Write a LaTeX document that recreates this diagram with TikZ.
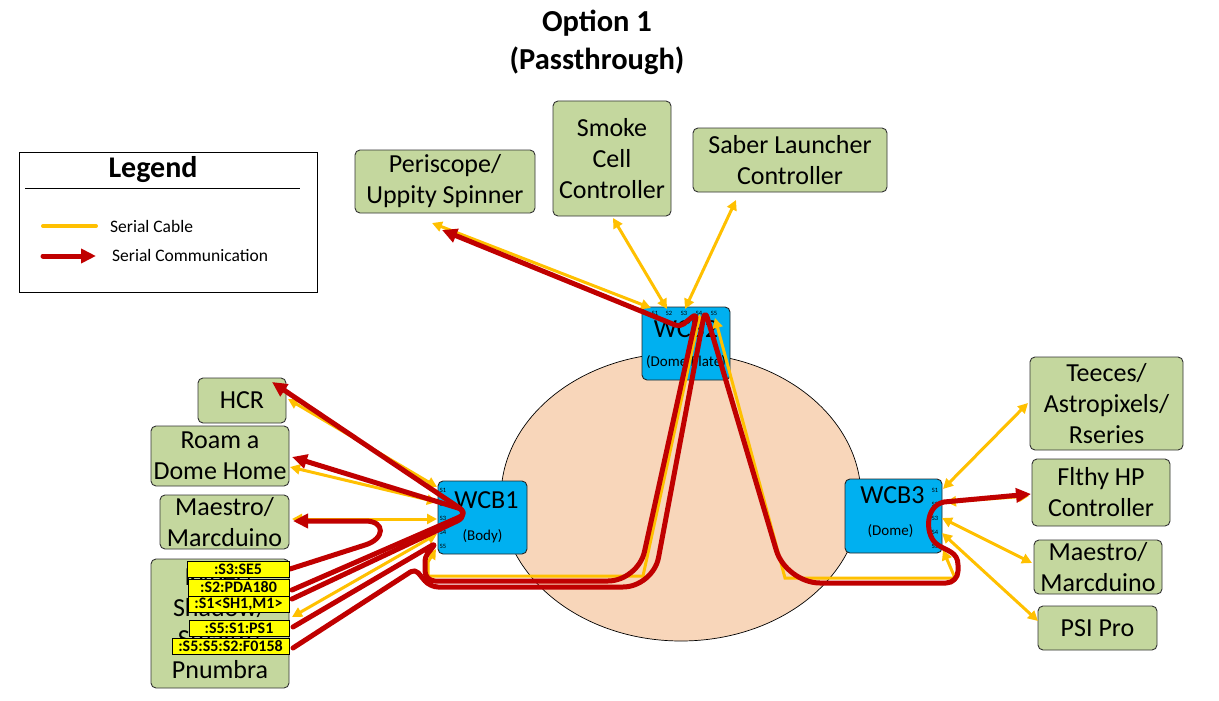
\documentclass[tikz,border=0pt]{standalone}
\usepackage{fontspec}
\setmainfont{Carlito}
\usetikzlibrary{arrows.meta,shapes.geometric}
\definecolor{gfill}{RGB}{196,215,158}
\definecolor{bfill}{HTML}{00B0F0}
\definecolor{peach}{HTML}{F8D6BA}
\definecolor{cab}{HTML}{FFC000}
\definecolor{com}{HTML}{C00000}
\definecolor{lab}{HTML}{FFFF00}
\newcommand\fsBox{\fontsize{26}{31}\selectfont}
\newcommand\fsTitle{\fontsize{30.5}{38}\selectfont\bfseries}
\newcommand\fsLeg{\fontsize{30}{36}\selectfont\bfseries}
\newcommand\fsLegTxt{\fontsize{17.5}{20}\selectfont}
\newcommand\fsWcb{\fontsize{26}{30}\selectfont}
\newcommand\fsSub{\fontsize{15}{18}\selectfont}
\newcommand\fsPort{\fontsize{6.5}{7}\selectfont}
\newcommand\fsLab{\fontsize{16}{16}\selectfont\bfseries}
\begin{document}
\begin{tikzpicture}[x=1pt,y=-1pt,
  gbox/.style={draw=black!80, line width=0.9pt, fill=gfill, rounded corners=5pt, inner sep=0pt, align=center, font=\fsBox},
  wbox/.style={draw=black!85, line width=0.9pt, fill=bfill, rounded corners=5pt, inner sep=0pt},
  cable/.style={draw=cab, line width=3pt, {Triangle[length=10pt,width=10pt]}-{Triangle[length=10pt,width=10pt]}},
  comm/.style={draw=com, line width=5pt, line cap=round, line join=round, -{Triangle[length=15pt,width=14pt]}},
  ylab/.style={draw=black, line width=0.8pt, fill=lab, inner sep=0pt, font=\fsLab},
  port/.style={font=\fsPort, inner sep=0pt},
]
\useasboundingbox (0,0) rectangle (1219,701);
\fill[white] (0,0) rectangle (1219,701);

% title
\node[font=\fsTitle, align=center] (title) at (597,42) {Option 1\\(Passthrough)};

% legend
\node[draw=black, line width=0.9pt, minimum width=298pt, minimum height=140pt, inner sep=0pt] (legend) at (168,222) {};
\node[font=\fsLeg] (legtitle) at (153,170) {Legend};
\coordinate (lgA) at (25,188); \coordinate (lgB) at (300,188);
\draw[line width=0.8pt] (lgA) -- (lgB);
\coordinate (lc1) at (43,226); \coordinate (lc2) at (96,226);
\draw[cab, line width=4pt, line cap=round] (lc1) -- (lc2);
\node[font=\fsLegTxt, anchor=west, inner sep=0pt] (lcabt) at (110,226) {Serial Cable};
\coordinate (lr1) at (43,256); \coordinate (lr2) at (96,256);
\draw[comm] (lr1) -- (lr2);
\node[font=\fsLegTxt, anchor=west, inner sep=0pt] (lcomt) at (112,255) {Serial Communication};

% dome
\node[ellipse, draw=black, line width=0.7pt, fill=peach, minimum width=360pt, minimum height=288pt, inner sep=0pt] (dome) at (681,497) {};

% WCB boxes
\node[wbox, minimum width=88pt, minimum height=73pt] (wcb2) at (686,343.5) {};
\path (wcb2.north) ++(0,23) node[font=\fsWcb] (wcb2t) {WCB2};
\path (wcb2.north) ++(0,56) node[font=\fsSub] (wcb2s) {(Dome Plate)};
\node[wbox, minimum width=89pt, minimum height=73pt] (wcb1) at (482.5,517.5) {};
\path (wcb1.north) ++(4,20) node[font=\fsWcb] (wcb1t) {WCB1};
\path (wcb1.north) ++(0,56) node[font=\fsSub] (wcb1s) {(Body)};
\node[wbox, minimum width=97pt, minimum height=74pt] (wcb3) at (893.5,516) {};
\path (wcb3.north) ++(-1,17) node[font=\fsWcb] (wcb3t) {WCB3};
\path (wcb3.north) ++(-3,53) node[font=\fsSub] (wcb3s) {(Dome)};

% port labels
\foreach \i/\yy in {1/490,2/504,3/518,4/532,5/546}{
  \node[port] (p1\i) at (443,\yy) {S\i};
  \node[port] (p3\i) at (935,\yy) {S\i};
}
\foreach \i/\xx in {1/655,2/669,3/684,4/699,5/714}{
  \node[port] (p2\i) at (\xx,313) {S\i};
}

% green boxes
\node[gbox, minimum width=180pt, minimum height=63pt] (peri) at (445,181.5) {Periscope/\\Uppity Spinner};
\node[gbox, minimum width=118pt, minimum height=115pt] (smoke) at (612,158.5) {Smoke\\Cell\\Controller};
\node[gbox, minimum width=194pt, minimum height=64pt] (saber) at (790,160) {Saber Launcher\\Controller};
\node[gbox, minimum width=88pt, minimum height=45pt] (hcr) at (242,400.5) {HCR};
\node[gbox, minimum width=138pt, minimum height=60pt] (roam) at (220,456) {Roam a\\Dome Home};
\node[gbox, minimum width=129pt, minimum height=54pt] (maeL) at (224.5,522) {Maestro/\\Marcduino};
\node[gbox, minimum width=138pt, minimum height=129pt] (kyber) at (220,623.5) {Kyber/\\Shadow/\\Stealth/\\Pnumbra};
\node[gbox, minimum width=153pt, minimum height=93pt] (teeces) at (1106.5,403.5) {Teeces/\\Astropixels/\\Rseries};
\node[gbox, minimum width=138pt, minimum height=67pt] (flthy) at (1101,492.5) {Flthy HP\\Controller};
\node[gbox, minimum width=128pt, minimum height=54pt] (maeR) at (1098,567) {Maestro/\\Marcduino};
\node[gbox, minimum width=119pt, minimum height=44pt] (psi) at (1097.5,628) {PSI Pro};

% connector end points
\coordinate (hcrY) at (288,399);   \coordinate (w1s1) at (437,487);
\coordinate (roamY) at (290,467);  \coordinate (w1s2) at (437,502);
\coordinate (maeLY) at (292,519);  \coordinate (w1s3) at (437,519);
\coordinate (kybY) at (292,617);   \coordinate (w1s4) at (437,534);
\coordinate (w1s5) at (436,549);
\coordinate (periY) at (432,223);  \coordinate (w2s1) at (651,308);
\coordinate (smokeY) at (613,218); \coordinate (w2s2) at (667,309);
\coordinate (saberY) at (736,200); \coordinate (w2s3) at (685,309);
\coordinate (w2s4) at (700,314);   \coordinate (w2s5) at (715,318);
\coordinate (w3s1) at (943,489);   \coordinate (teecesY) at (1028,403);
\coordinate (w3s2) at (946,502);   \coordinate (flthyY) at (1029,496);
\coordinate (w3s3) at (942,518);   \coordinate (maeRY) at (1032,563);
\coordinate (w3s4) at (942,533);   \coordinate (psiY) at (1038,621);
\coordinate (w3s5) at (943,550);

% serial cables (yellow)
\draw[cable] (hcrY) -- (w1s1);
\draw[cable] (roamY) -- (w1s2);
\draw[cable] (maeLY) -- (w1s3);
\draw[cable] (kybY) -- (w1s4);
\draw[cable] (w1s5) -- (428,562) -- (428,576) -- (643,576) -- (w2s4);
\draw[cable] (w2s5) -- (785,578) -- (955,578) -- (w3s5);
\draw[cable] (periY) -- (w2s1);
\draw[cable] (smokeY) -- (w2s2);
\draw[cable] (saberY) -- (w2s3);
\draw[cable] (w3s1) -- (teecesY);
\draw[cable] (w3s2) -- (flthyY);
\draw[cable] (w3s3) -- (maeRY);
\draw[cable] (w3s4) -- (psiY);

% label coordinates (red starts)
\coordinate (rS3) at (290,569);
\coordinate (rS2) at (292,590);
\coordinate (rS1) at (292,599);
\coordinate (rPS) at (293,627);
\coordinate (rF)  at (293,648);
\coordinate (hcrR) at (272,382);
\coordinate (roamR) at (292,457);
\coordinate (maeLR) at (293,521);
\coordinate (periR) at (442,230);
\coordinate (flthyR) at (1031,494);

% serial communication (red)
\draw[comm] (rS3) -- (365,545) .. controls (385,539) and (386,521) .. (365,521) -- (maeLR);
\draw[comm, rounded corners=14pt] (rS2) -- (471,512) -- (roamR);
\draw[comm, rounded corners=14pt] (rS1) -- (470,515) -- (hcrR);
\draw[comm] (rPS) [rounded corners=5pt] -- (436,543) [rounded corners=4pt] -- (425,557) [rounded corners=10pt] -- (425,581) [rounded corners=30pt] -- (638,581) [rounded corners=6pt] -- (697,313) [rounded corners=5pt] -- (680,327) [sharp corners] -- (periR);
\draw[comm] (rF) [rounded corners=5pt] -- (415,569) [rounded corners=8pt] -- (430,587) [rounded corners=30pt] -- (653,587) [rounded corners=8pt] -- (705,310) [rounded corners=34pt] -- (786,583) [rounded corners=12pt] -- (958,583) [sharp corners] -- (958,565) .. controls (958,552) and (947,551) .. (938,545) .. controls (925,537) and (924,506) .. (944,502) -- (flthyR);

% command labels
\node[ylab, minimum width=102pt, minimum height=16pt] (labS3) at (238,569) {:S3:SE5};
\node[ylab, minimum width=101pt, minimum height=17pt] (labS2) at (238.5,587.5) {:S2:PDA180};
\node[ylab, minimum width=101pt, minimum height=16pt] (labS1) at (238.5,604) {:S1<SH1,M1>};
\node[ylab, minimum width=100pt, minimum height=16pt] (labPS) at (239,628) {:S5:S1:PS1};
\node[ylab, minimum width=117pt, minimum height=16pt] (labF) at (230.5,646) {:S5:S5:S2:F0158};
\end{tikzpicture}
\end{document}
